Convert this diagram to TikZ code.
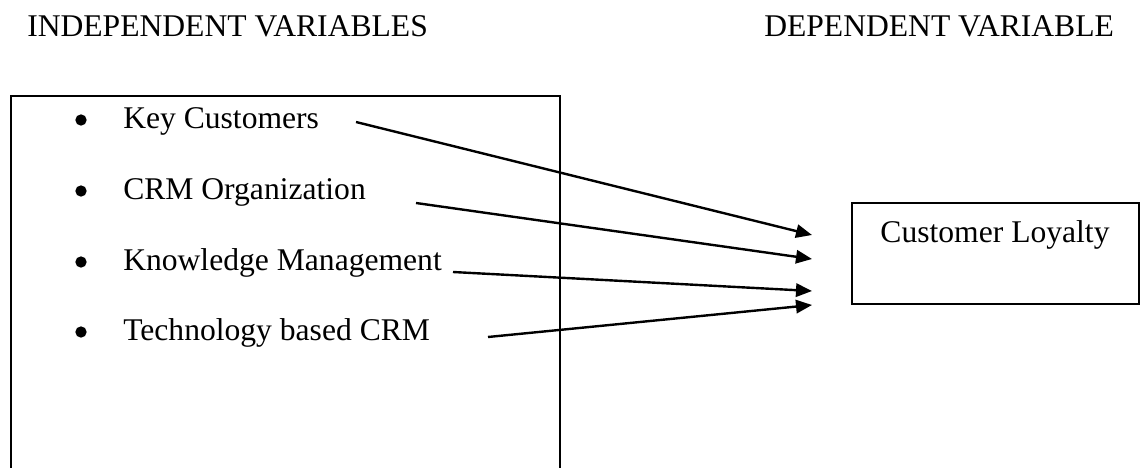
\documentclass[tikz,border=0pt]{standalone}
\usepackage{fontspec}
\setmainfont{Liberation Serif}
\usetikzlibrary{arrows.meta, positioning}
\tikzset{>={Triangle[length=12pt,width=10pt]}}

\begin{document}
\begin{tikzpicture}[x=0.75pt, y=-0.75pt, font=\fontsize{23.7}{28}\selectfont,
		item/.style={anchor=base west, inner sep=0pt},
		dot/.style={circle, fill, inner sep=0pt, minimum size=8.5pt},
		link/.style={->, line width=1.8pt}]
	\useasboundingbox (0,0) rectangle (1140,468);
	% headings
	\node[item] (indep) at (27,36) {INDEPENDENT VARIABLES};
	\node[item] (dep) at (764,36) {DEPENDENT VARIABLE};
	% open frame round the factors
	\draw[line width=1.5pt] (11,469) -- (11,96) -- (560,96) -- (560,469);
	\node[dot] (b1) at (81,120) {};
	\node[item] (keycust) at (123,128) {Key Customers};
	\node[dot] (b2) at (81,191) {};
	\node[item] (crmorg) at (123,199) {CRM Organization};
	\node[dot] (b3) at (81,262) {};
	\node[item] (knowmgmt) at (123,270) {Knowledge Management};
	\node[dot] (b4) at (81,332) {};
	\node[item] (techcrm) at (123,340) {Technology based CRM};
	% outcome box
	\node[draw, line width=1.5pt, minimum width=215pt, minimum height=75.75pt, inner sep=0pt] (dvbox) at (995.5,253.5) {};
	\node[anchor=base, inner sep=0pt] (loyalty) at (995,242) {Customer Loyalty};
	% arrows
	\coordinate (s1) at (356,122); \coordinate (t1) at (812,235);
	\coordinate (s2) at (416,203); \coordinate (t2) at (812,259);
	\coordinate (s3) at (453,272); \coordinate (t3) at (812,291);
	\coordinate (s4) at (488,337); \coordinate (t4) at (812,305);
	\draw[link] (s1) -- (t1);
	\draw[link] (s2) -- (t2);
	\draw[link] (s3) -- (t3);
	\draw[link] (s4) -- (t4);
\end{tikzpicture}
\end{document}
